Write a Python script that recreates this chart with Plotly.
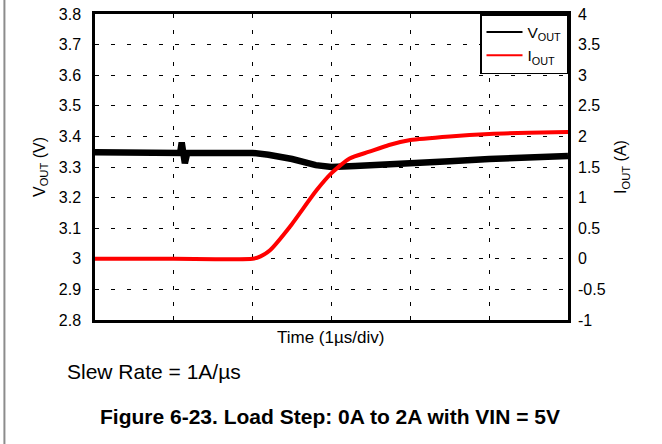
import plotly.graph_objects as go

# time in divisions (1 us/div)
t_vout = [0.0, 0.5, 1.0, 1.08, 1.10, 1.12, 1.14, 1.17, 1.5, 2.0, 2.2, 2.5, 2.8, 3.0, 3.3, 3.6, 4.0, 4.5, 5.0, 5.5, 6.0]
vout = [3.348, 3.347, 3.346, 3.346, 3.380, 3.346, 3.312, 3.346, 3.347, 3.346, 3.340, 3.326, 3.306, 3.300, 3.303, 3.308, 3.312, 3.319, 3.326, 3.331, 3.336]

t_iout = [0.0, 1.0, 2.0, 2.1, 2.22, 2.47, 2.81, 3.0, 3.23, 3.48, 3.73, 4.0, 4.5, 5.0, 5.5, 6.0]
iout = [0.0, 0.0, 0.0, 0.04, 0.14, 0.52, 1.12, 1.40, 1.64, 1.75, 1.86, 1.94, 2.0, 2.04, 2.06, 2.07]

left_ticks = [2.8, 2.9, 3.0, 3.1, 3.2, 3.3, 3.4, 3.5, 3.6, 3.7, 3.8]
left_text = ["2.8", "2.9", "3", "3.1", "3.2", "3.3", "3.4", "3.5", "3.6", "3.7", "3.8"]
right_ticks = [-1, -0.5, 0, 0.5, 1, 1.5, 2, 2.5, 3, 3.5, 4]
right_text = ["-1", "-0.5", "0", "0.5", "1", "1.5", "2", "2.5", "3", "3.5", "4"]

FONT = "Liberation Sans, Arial, sans-serif"

fig = go.Figure()
fig.add_trace(go.Scatter(
    x=t_vout, y=vout, mode="lines", showlegend=False,
    line=dict(color="black", width=6.5), yaxis="y"
))
fig.add_trace(go.Scatter(
    x=t_iout, y=iout, mode="lines", showlegend=False,
    line=dict(color="#ff0000", width=4, shape="spline", smoothing=0.6), yaxis="y2"
))
# legend entries drawn with thin sample lines
fig.add_trace(go.Scatter(x=[None], y=[None], mode="lines", name="V<sub>OUT</sub>",
                         line=dict(color="black", width=2)))
fig.add_trace(go.Scatter(x=[None], y=[None], mode="lines", name="I<sub>OUT</sub>",
                         line=dict(color="#ff0000", width=2)))

fig.update_layout(
    width=662, height=444,
    margin=dict(l=95, r=94, t=14, b=124),
    paper_bgcolor="white", plot_bgcolor="white",
    font=dict(family=FONT, size=16, color="black"),
    showlegend=True,
    legend=dict(
        x=1, y=1, xanchor="right", yanchor="top",
        bgcolor="white", bordercolor="black", borderwidth=1.5,
        font=dict(size=15.5), tracegroupgap=0, itemwidth=36,
    ),
    xaxis=dict(
        range=[0, 6], dtick=1, tick0=0, showticklabels=False,
        showgrid=True, gridcolor="black", gridwidth=1, griddash="4px,12px",
        ticks="inside", ticklen=4, tickcolor="black",
        showline=True, linecolor="black", linewidth=2.5, mirror=True,
        zeroline=False, automargin=False,
    ),
    yaxis=dict(
        range=[2.8, 3.8], tickvals=left_ticks, ticktext=left_text,
        showgrid=True, gridcolor="black", gridwidth=1, griddash="4px,12px",
        showline=True, linecolor="black", linewidth=2.5, mirror=True,
        zeroline=False, ticks="", ticklabelstandoff=8, automargin=False,
        title=dict(text="V<sub>OUT</sub> (V)", standoff=10, font=dict(size=16)),
    ),
    yaxis2=dict(
        range=[-1, 4], tickvals=right_ticks, ticktext=right_text,
        overlaying="y", side="right", showgrid=False, zeroline=False,
        ticks="", ticklabelstandoff=9, automargin=False,
        title=dict(text="I<sub>OUT</sub> (A)", standoff=10, font=dict(size=16)),
    ),
    annotations=[
        dict(text="Time (1\u00b5s/div)", x=0.497, y=-0.056, xref="paper", yref="paper",
             showarrow=False, xanchor="center", yanchor="middle", font=dict(size=17)),
        dict(text="Slew Rate = 1A/\u00b5s", x=-0.063, y=-0.167, xref="paper", yref="paper",
             showarrow=False, xanchor="left", yanchor="middle", font=dict(size=21)),
        dict(text="<b>Figure 6-23. Load Step: 0A to 2A with VIN = 5V</b>", x=0.497, y=-0.314,
             xref="paper", yref="paper", showarrow=False, xanchor="center", yanchor="middle",
             font=dict(size=21)),
    ],
    shapes=[
        dict(type="line", xref="paper", yref="paper", x0=-0.1915, x1=-0.1915, y0=-0.5, y1=1.1,
             line=dict(color="#8c8c8c", width=2)),
    ],
)

# drop the default page margin so the figure sits at the window origin
fig.write_html("out.html", config={"displayModeBar": False},
               post_script="document.body.style.margin='0';")
